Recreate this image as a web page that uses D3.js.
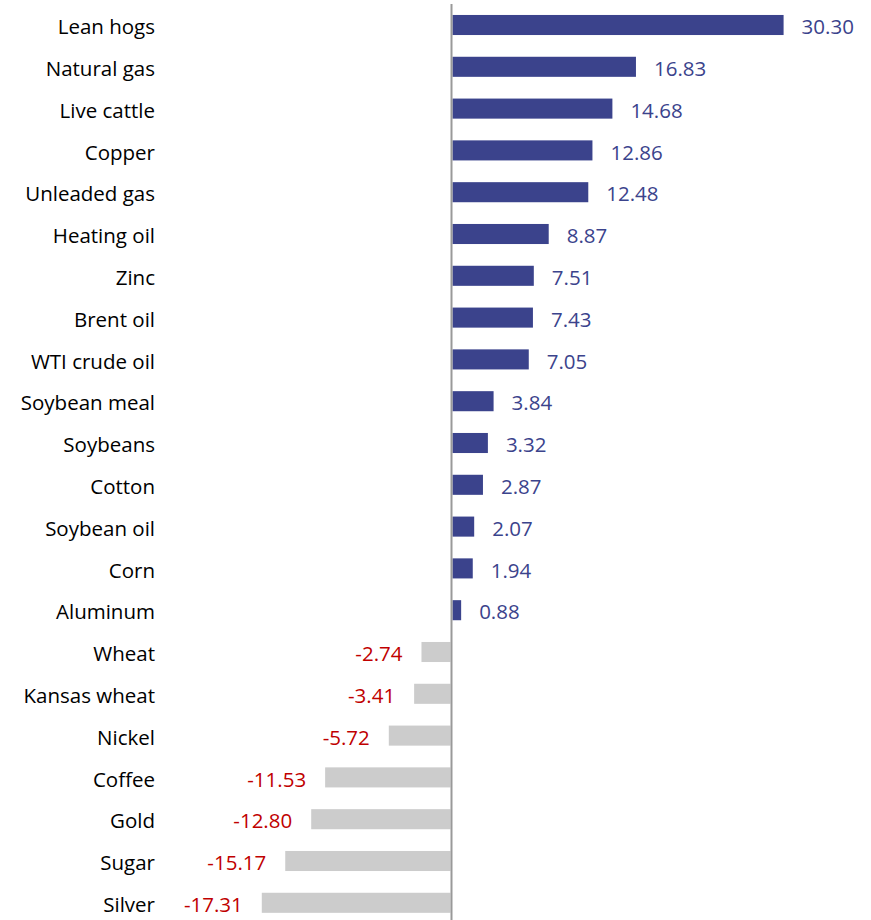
<!DOCTYPE html>
<html><head><meta charset="utf-8">
<script src="https://cdn.jsdelivr.net/npm/d3@7"></script>
<style>body{margin:0;background:#fff}svg{display:block}text{font-family:"Open Sans",sans-serif}</style>
</head><body><svg id="c" width="871" height="920"></svg>
<script>
const categories = ["Lean hogs","Natural gas","Live cattle","Copper","Unleaded gas","Heating oil","Zinc","Brent oil","WTI crude oil","Soybean meal","Soybeans","Cotton","Soybean oil","Corn","Aluminum","Wheat","Kansas wheat","Nickel","Coffee","Gold","Sugar","Silver"];
const values = [30.30,16.83,14.68,12.86,12.48,8.87,7.51,7.43,7.05,3.84,3.32,2.87,2.07,1.94,0.88,-2.74,-3.41,-5.72,-11.53,-12.80,-15.17,-17.31];
const data = categories.map((c,i)=>({c,v:values[i]}));
const svg = d3.select("#c");
const k = 10.96, x0 = 451.5;
const x = d3.scaleLinear().domain([-20,35]).range([x0-20*k, x0+35*k]);
const y = d3.scaleBand().domain(categories).range([4.1, 4.1+22*41.8]).paddingInner(0.52).paddingOuter(0.26);
svg.selectAll("rect.bar").data(data).join("rect")
  .attr("x", d=>d.v>=0? x(0)+1 : x(d.v))
  .attr("width", d=>d.v>=0? x(d.v)-x(0)-1 : x(0)-x(d.v)-1)
  .attr("y", d=>y(d.c)).attr("height", y.bandwidth())
  .attr("fill", d=>d.v>=0?"#3B438C":"#CCCCCC");
svg.append("line").attr("x1",x(0)).attr("x2",x(0)).attr("y1",4).attr("y2",920).attr("stroke","#999").attr("stroke-width",2);
svg.selectAll("text.cat").data(data).join("text")
  .attr("x",155).attr("y",d=>y(d.c)+y.bandwidth()/2+2).attr("dy","0.35em")
  .attr("text-anchor","end").attr("font-size",20.5).attr("fill","#000").text(d=>d.c);
svg.selectAll("text.val").data(data).join("text")
  .attr("x",d=>d.v>=0? x(d.v)+18 : x(d.v)-19).attr("y",d=>y(d.c)+y.bandwidth()/2+2).attr("dy","0.35em")
  .attr("text-anchor",d=>d.v>=0?"start":"end").attr("font-size",20.5)
  .attr("fill",d=>d.v>=0?"#3B438C":"#C00000").text(d=>d.v.toFixed(2));
</script></body></html>
